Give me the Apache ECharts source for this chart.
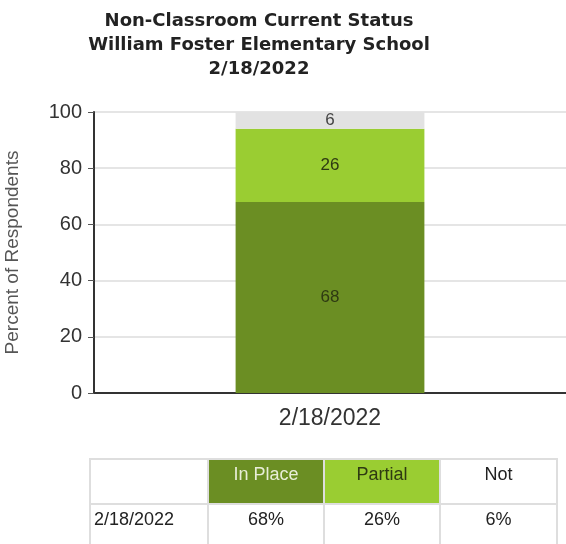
<!DOCTYPE html>
<html>
<head>
<meta charset="utf-8">
<script src="https://cdn.jsdelivr.net/npm/echarts@6/dist/echarts.min.js"></script>
<style>
  body { margin: 0; background: #fff; }
  #chart { position: absolute; left: 0; top: 0; width: 566px; height: 544px; }
  #tbl {
    position: absolute; left: 89px; top: 458px;
    border-collapse: collapse;
    font-family: "Liberation Sans", Arial, sans-serif; font-size: 18px; color: #222;
  }
  #tbl td {
    border: 2px solid #dedede; height: 45px; padding: 4px 0 0 0;
    vertical-align: top; text-align: center; box-sizing: border-box;
  }
</style>
</head>
<body>
<div id="chart"></div>
<table id="tbl"></table>
<script>
var titleLines = ['Non-Classroom Current Status', 'William Foster Elementary School', '2/18/2022'];
var categories = ['2/18/2022'];
var seriesNames = ['In Place', 'Partial', 'Not'];
var inPlace = [68];
var partial = [26];
var notInPlace = [6];
var colors = ['#6b8e23', '#9acd32', '#e2e2e2'];
var yTicks = [0, 20, 40, 60, 80, 100];

var seriesData = [inPlace, partial, notInPlace];

var myChart = echarts.init(document.getElementById('chart'));
var option = {
    animation: false,
    title: {
        text: titleLines.join('\n'),
        left: 254,
        textAlign: 'center',
        top: 4,
        textStyle: {
            fontFamily: 'DejaVu Sans',
            fontWeight: 'bold',
            fontSize: 18,
            lineHeight: 24,
            color: '#222'
        }
    },
    grid: { left: 94, right: 0, top: 112, bottom: 151, containLabel: false, outerBoundsMode: 'none' },
    xAxis: {
        type: 'category',
        data: categories,
        axisLine: { lineStyle: { color: '#333', width: 2 } },
        axisTick: { show: false },
        axisLabel: { fontFamily: 'Liberation Sans', fontSize: 23, color: '#333', margin: 14 }
    },
    yAxis: {
        type: 'value',
        min: yTicks[0],
        max: yTicks[yTicks.length - 1],
        interval: 20,
        name: 'Percent of Respondents',
        nameLocation: 'middle',
        nameGap: 72,
        nameTextStyle: { fontFamily: 'Liberation Sans', fontSize: 19, color: '#555' },
        axisLine: { show: true, lineStyle: { color: '#333', width: 2 } },
        axisTick: { show: true, length: 6, lineStyle: { color: '#555' } },
        axisLabel: { fontFamily: 'Liberation Sans', fontSize: 20, color: '#333', margin: 12 },
        splitLine: { lineStyle: { color: '#dcdcdc', width: 1.5 } }
    },
    series: seriesNames.map(function(name, i) {
        return {
            name: name,
            type: 'bar',
            stack: 'total',
            barWidth: '40%',
            data: seriesData[i],
            itemStyle: { color: colors[i] },
            label: {
                show: true,
                position: 'inside',
                fontFamily: 'Liberation Sans',
                fontSize: 17,
                color: i == 2 ? '#444' : '#2e3a12'
            }
        };
    })
};
myChart.setOption(option);

// data table under the chart
var tbl = document.getElementById('tbl');
var head = '<tr><td style="width:118px"></td>';
var headBg = ['#6b8e23', '#9acd32', '#fff'];
var headFg = ['#e8eed8', '#2e3a12', '#222'];
for (var i = 0; i < seriesNames.length; i++) {
    head += '<td style="width:' + (i == 2 ? 117 : 116) + 'px;background:' + headBg[i] + ';color:' + headFg[i] + '">' + seriesNames[i] + '</td>';
}
head += '</tr>';
var rows = '';
for (var c = 0; c < categories.length; c++) {
    rows += '<tr><td style="text-align:left;padding-left:3px">' + categories[c] + '</td>';
    for (var i = 0; i < seriesData.length; i++) {
        rows += '<td>' + seriesData[i][c] + '%</td>';
    }
    rows += '</tr>';
}
tbl.innerHTML = head + rows;
</script>
</body>
</html>
